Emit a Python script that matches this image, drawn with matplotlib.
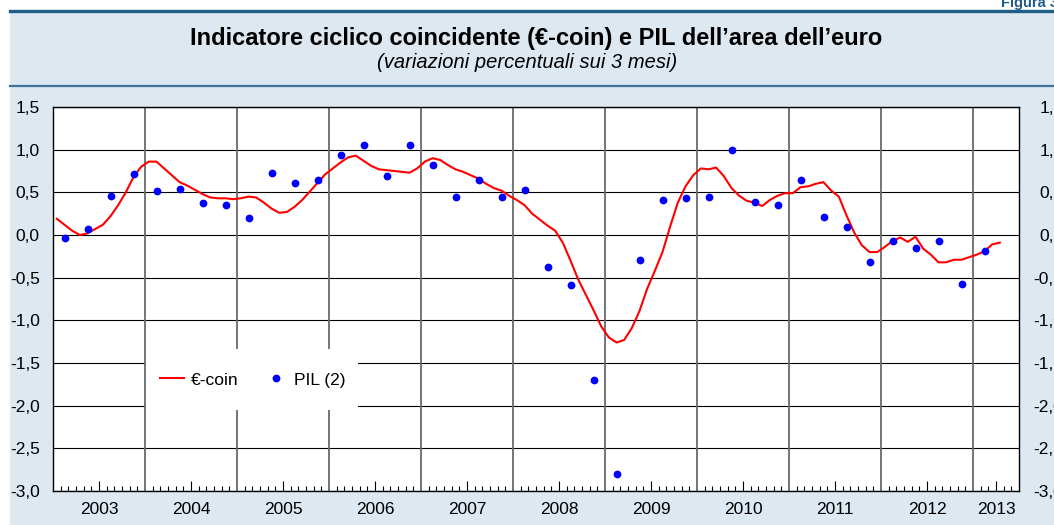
import matplotlib
matplotlib.use("Agg")
import matplotlib.pyplot as plt
from matplotlib.patches import Rectangle
from matplotlib.lines import Line2D
from matplotlib.ticker import FixedLocator, NullFormatter

plt.rcParams['font.family'] = ['Liberation Sans', 'DejaVu Sans']

# ---------------- data ----------------
coin_start_year = 2003
coin_start_month = 1
coin_values = [
    # 2003
    0.19, 0.12, 0.05, 0.00, 0.02, 0.07, 0.12, 0.22, 0.35, 0.50, 0.68, 0.80,
    # 2004
    0.86, 0.86, 0.78, 0.70, 0.62, 0.58, 0.53, 0.48, 0.44, 0.43, 0.43, 0.42,
    # 2005
    0.43, 0.45, 0.44, 0.38, 0.31, 0.26, 0.27, 0.33, 0.41, 0.51, 0.61, 0.71,
    # 2006
    0.78, 0.85, 0.91, 0.93, 0.87, 0.81, 0.77, 0.76, 0.75, 0.74, 0.73, 0.78,
    # 2007
    0.86, 0.90, 0.88, 0.82, 0.77, 0.74, 0.70, 0.66, 0.60, 0.55, 0.52, 0.46,
    # 2008
    0.41, 0.35, 0.25, 0.18, 0.11, 0.05, -0.09, -0.30, -0.52, -0.70, -0.88, -1.07,
    # 2009
    -1.20, -1.26, -1.23, -1.09, -0.89, -0.63, -0.42, -0.20, 0.10, 0.38, 0.57, 0.70,
    # 2010
    0.78, 0.77, 0.79, 0.69, 0.55, 0.46, 0.40, 0.38, 0.34, 0.41, 0.46, 0.49,
    # 2011
    0.49, 0.56, 0.57, 0.60, 0.62, 0.52, 0.45, 0.23, 0.03, -0.12, -0.20, -0.20,
    # 2012
    -0.14, -0.07, -0.03, -0.08, -0.02, -0.16, -0.23, -0.32, -0.32, -0.29, -0.29, -0.26,
    # 2013
    -0.23, -0.19, -0.11, -0.09,
]

gdp_start_year = 2003
gdp_values = [
    -0.04, 0.07, 0.46, 0.71,    # 2003
    0.52, 0.54, 0.37, 0.35,     # 2004
    0.20, 0.73, 0.61, 0.65,     # 2005
    0.94, 1.06, 0.69, 1.05,     # 2006
    0.82, 0.45, 0.64, 0.44,     # 2007
    0.53, -0.37, -0.59, -1.70,  # 2008
    -2.80, -0.29, 0.41, 0.43,   # 2009
    0.45, 1.00, 0.39, 0.35,     # 2010
    0.65, 0.21, 0.09, -0.32,    # 2011
    -0.07, -0.15, -0.07, -0.58, # 2012
    -0.19,                      # 2013
]

years = list(range(2003, 2014))
y_ticks = [1.5, 1.0, 0.5, 0.0, -0.5, -1.0, -1.5, -2.0, -2.5, -3.0]
y_labels = ["1,5", "1,0", "0,5", "0,0", "-0,5", "-1,0", "-1,5", "-2,0", "-2,5", "-3,0"]

title = "Indicatore ciclico coincidente (€-coin) e PIL dell\u2019area dell\u2019euro"
subtitle = "(variazioni percentuali sui 3 mesi)"

# positions (decimal years, centred on months)
coin_x = [coin_start_year + (coin_start_month - 1 + i + 0.5) / 12 for i in range(len(coin_values))]
gdp_x = [gdp_start_year + (3 * q + 1 + 0.5) / 12 for q in range(len(gdp_values))]

# ---------------- figure ----------------
W, H = 1054, 525
fig = plt.figure(figsize=(W / 100, H / 100), dpi=100, facecolor='white')

bg = '#dde8f1'
fig.patches.append(Rectangle((10 / W, 0), 1 - 10 / W, 1 - 11 / H, transform=fig.transFigure,
                             facecolor=bg, edgecolor='none', zorder=-10))
fig.lines.append(Line2D([10 / W, 1], [1 - 11 / H, 1 - 11 / H], transform=fig.transFigure,
                        color='#1f5c88', lw=2.4, zorder=-5))
fig.lines.append(Line2D([10 / W, 1], [1 - 86 / H, 1 - 86 / H], transform=fig.transFigure,
                        color='#3f739c', lw=1.6, zorder=-5))

fig.text(1001 / W, 1 - 7 / H, "Figura 3.1", ha='left', va='baseline', fontsize=10.5,
         fontweight='bold', color='#1f5c88')
fig.text(536 / W, 1 - 38 / H, title, ha='center', va='center', fontsize=17, fontweight='bold',
         color='black')
fig.text(527 / W, 1 - 62 / H, subtitle, ha='center', va='center', fontsize=14.5,
         style='italic', color='black')

ax = fig.add_axes([53 / W, 1 - 491 / H, 966 / W, 384 / H])
ax.set_facecolor('white')
ax.set_xlim(2003, 2013.5)
ax.set_ylim(-3.0, 1.5)

# grid
for yv in y_ticks:
    ax.axhline(yv, color='black', lw=0.8, zorder=1)
for yr in years[1:]:
    ax.axvline(yr, color='#6a6a6a', lw=1.3, zorder=1)

for s in ax.spines.values():
    s.set_color('black')
    s.set_linewidth(1.0)
    s.set_zorder(5)

FS = 12.5

# ticks
ax.set_yticks(y_ticks)
ax.set_yticklabels(y_labels)
ax.tick_params(axis='y', length=0, pad=9.5, labelsize=FS)

ax.xaxis.set_major_locator(FixedLocator([y + 0.5 for y in years[:-1]] + [2013.5 - 0.25]))
ax.set_xticklabels([str(y) for y in years])
months = [y + m / 12 for y in years for m in range(1, 12)]
ax.xaxis.set_minor_locator(FixedLocator([m for m in months if m < 2013.5]))
ax.xaxis.set_minor_formatter(NullFormatter())
ax.tick_params(axis='x', which='major', direction='in', length=7.5, width=0.8, pad=8, labelsize=FS)
ax.tick_params(axis='x', which='minor', direction='in', length=3.5, width=0.8)

ax2 = ax.twinx()
ax2.set_ylim(-3.0, 1.5)
ax2.set_yticks(y_ticks)
ax2.set_yticklabels(y_labels)
ax2.tick_params(axis='y', length=0, pad=32, labelsize=FS)
for lab in ax2.get_yticklabels():
    lab.set_horizontalalignment('right')
for s in ax2.spines.values():
    s.set_visible(False)

# data
ax.plot(coin_x, coin_values, color='#ff0000', lw=1.5, zorder=4, label='\u20ac-coin')
ax.plot(gdp_x, gdp_values, linestyle='none', marker='o', ms=5.6, color='#0000ff',
        markeredgewidth=0, zorder=4, label='PIL (2)')

# legend box
ax.add_patch(Rectangle(((146 - 53) / 966, (491 - 410) / 384), (358 - 146) / 966, 61 / 384,
                       transform=ax.transAxes, facecolor='white', edgecolor='none', zorder=3))
leg = ax.legend(loc='center left', bbox_to_anchor=((160 - 53) / 966, (491 - 380) / 384),
                ncol=2, frameon=False, fontsize=FS, handlelength=1.4, handletextpad=0.35,
                columnspacing=1.5, numpoints=1, borderpad=0, borderaxespad=0)
leg.set_zorder(6)

fig.savefig('out.png', dpi=100, facecolor=fig.get_facecolor())
